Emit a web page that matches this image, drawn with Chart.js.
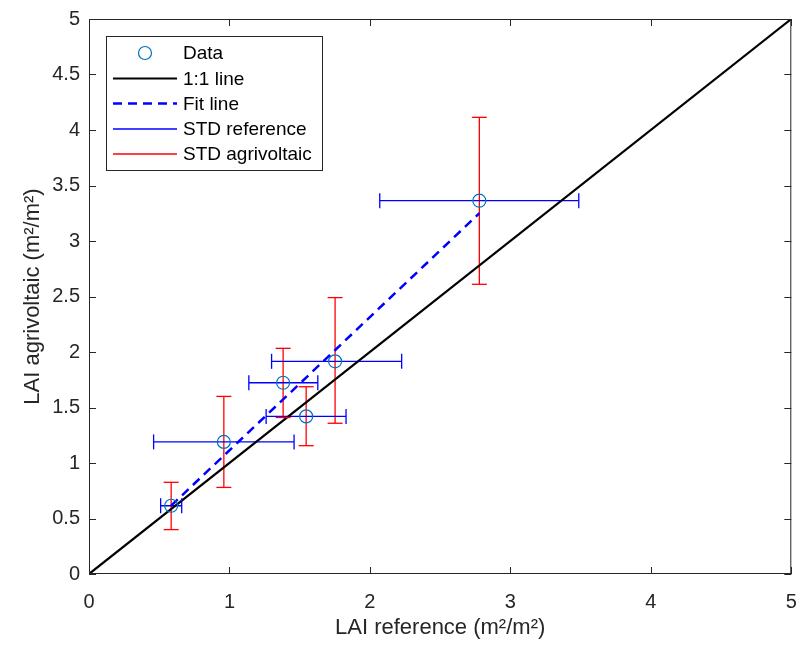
<!DOCTYPE html>
<html>
<head>
<meta charset="utf-8">
<script src="https://cdn.jsdelivr.net/npm/chart.js@4.4.0/dist/chart.umd.min.js"></script>
<style>
  html, body { margin: 0; padding: 0; background: #fff; }
  #wrap { width: 799px; height: 649px; }
</style>
</head>
<body>
<div id="wrap"><canvas id="laiChart" width="799" height="649"></canvas></div>
<script>
// values
var refLAI   = [0.585, 0.96, 1.382, 1.546, 1.752, 2.779];
var agriLAI  = [0.615, 1.19, 1.723, 1.42, 1.916, 3.363];
var refLow   = [0.51, 0.46, 1.138, 1.261, 1.30, 2.07];
var refHigh  = [0.66, 1.46, 1.629, 1.83, 2.226, 3.487];
var agriLow  = [0.40, 0.78, 1.41, 1.156, 1.358, 2.61];
var agriHigh = [0.826, 1.60, 2.033, 1.687, 2.49, 4.114];
var oneX = [0, 5];
var oneY = [0, 5];
var fitX = [0.585, 2.779];
var fitY = [0.616, 3.25];
var xTicks = [0, 1, 2, 3, 4, 5];
var yTicks = [0, 0.5, 1, 1.5, 2, 2.5, 3, 3.5, 4, 4.5, 5];

var axisColor = '#262626';
var font = 'Liberation Sans, Arial, sans-serif';

function pts(xs, ys) {
  return xs.map(function(x, i) { return { x: x, y: ys[i] }; });
}
// error bar segments, one per point, separated by gaps
function segs(x1, y1, x2, y2) {
  var out = [];
  for (var i = 0; i < x1.length; i++) {
    out.push({ x: x1[i], y: y1[i] }, { x: x2[i], y: y2[i] }, { x: null, y: null });
  }
  return out;
}

var errorCaps = {
  id: 'errorCaps',
  afterDatasetsDraw: function(chart) {
    var ctx = chart.ctx, xs = chart.scales.x, ys = chart.scales.y;
    var cap = 7.5;
    ctx.save();
    ctx.lineWidth = 1.3;
    ctx.strokeStyle = '#0000ff';
    for (var i = 0; i < refLAI.length; i++) {
      var py = ys.getPixelForValue(agriLAI[i]);
      [refLow[i], refHigh[i]].forEach(function(v) {
        var px = xs.getPixelForValue(v);
        ctx.beginPath(); ctx.moveTo(px, py - cap); ctx.lineTo(px, py + cap); ctx.stroke();
      });
    }
    ctx.strokeStyle = '#ff0000';
    for (var j = 0; j < refLAI.length; j++) {
      var qx = xs.getPixelForValue(refLAI[j]);
      [agriLow[j], agriHigh[j]].forEach(function(v) {
        var qy = ys.getPixelForValue(v);
        ctx.beginPath(); ctx.moveTo(qx - cap, qy); ctx.lineTo(qx + cap, qy); ctx.stroke();
      });
    }
    ctx.restore();
  },
  afterDraw: function(chart) {
    var ctx = chart.ctx, a = chart.chartArea, xs = chart.scales.x, ys = chart.scales.y;
    var tl = 7;
    ctx.save();
    // box and inward ticks
    ctx.strokeStyle = axisColor;
    ctx.lineWidth = 1;
    ctx.strokeRect(a.left + 0.5, a.top + 0.5, a.right - a.left - 1, a.bottom - a.top - 1);
    ctx.beginPath();
    xTicks.forEach(function(v) {
      var px = Math.round(xs.getPixelForValue(v)) + 0.5;
      ctx.moveTo(px, a.bottom); ctx.lineTo(px, a.bottom - tl);
      ctx.moveTo(px, a.top); ctx.lineTo(px, a.top + tl);
    });
    yTicks.forEach(function(v) {
      var py = Math.round(ys.getPixelForValue(v)) + 0.5;
      ctx.moveTo(a.left, py); ctx.lineTo(a.left + tl, py);
      ctx.moveTo(a.right, py); ctx.lineTo(a.right - tl, py);
    });
    ctx.stroke();

    // legend box
    var bx = 106, by = 36, bw = 216, bh = 134;
    ctx.fillStyle = '#fff';
    ctx.fillRect(bx, by, bw, bh);
    ctx.strokeRect(bx + 0.5, by + 0.5, bw, bh);
    var rowY = [53, 78.5, 103.5, 129, 154];
    ctx.font = '19px ' + font;
    ctx.textBaseline = 'middle';
    chart.data.datasets.forEach(function(ds, k) {
      var y = rowY[k];
      ctx.save();
      if (k === 0) {
        ctx.strokeStyle = ds.borderColor; ctx.lineWidth = ds.borderWidth;
        ctx.beginPath(); ctx.arc(145, y, 6.5, 0, Math.PI * 2); ctx.stroke();
      } else {
        ctx.strokeStyle = ds.borderColor; ctx.lineWidth = ds.borderWidth;
        ctx.setLineDash(ds.borderDash || []);
        ctx.beginPath(); ctx.moveTo(113, y); ctx.lineTo(177, y); ctx.stroke();
      }
      ctx.restore();
      ctx.fillStyle = '#000';
      ctx.fillText(ds.label, 183, y + 1);
    });
    ctx.restore();
  }
};

var ctx = document.getElementById('laiChart');
var laiChart = new Chart(ctx, {
  type: 'scatter',
  data: {
    datasets: [{
      label: 'Data',
      data: pts(refLAI, agriLAI),
      showLine: false,
      pointStyle: 'circle',
      pointRadius: 6.5,
      borderColor: '#0072BD',
      backgroundColor: 'rgba(0,0,0,0)',
      borderWidth: 1.2
    }, {
      label: '1:1 line',
      data: pts(oneX, oneY),
      showLine: true,
      pointRadius: 0,
      borderColor: '#000',
      borderWidth: 2.2
    }, {
      label: 'Fit line',
      data: pts(fitX, fitY),
      showLine: true,
      pointRadius: 0,
      borderColor: '#0000ff',
      borderWidth: 2.5,
      borderDash: [9, 6]
    }, {
      label: 'STD reference',
      data: segs(refLow, agriLAI, refHigh, agriLAI),
      showLine: true,
      spanGaps: false,
      pointRadius: 0,
      borderColor: '#0000ff',
      borderWidth: 1.3
    }, {
      label: 'STD agrivoltaic',
      data: segs(refLAI, agriLow, refLAI, agriHigh),
      showLine: true,
      spanGaps: false,
      pointRadius: 0,
      borderColor: '#ff0000',
      borderWidth: 1.3
    }]
  },
  options: {
    responsive: false,
    animation: false,
    devicePixelRatio: 1,
    layout: { padding: { top: 19, right: 7, bottom: 0, left: 0 } },
    plugins: { legend: { display: false }, tooltip: { enabled: false } },
    scales: {
      x: {
        type: 'linear', min: 0, max: 5,
        afterBuildTicks: function(axis) { axis.ticks = xTicks.map(function(v) { return { value: v }; }); },
        afterFit: function(axis) { axis.height = 75; axis.paddingLeft = 0; axis.paddingRight = 0; },
        grid: { display: false, drawTicks: false },
        border: { display: false },
        ticks: { color: axisColor, font: { family: font, size: 20 }, padding: 16, maxRotation: 0,
                 callback: function(v) { return String(v); } },
        title: { display: true, text: 'LAI reference (m\u00b2/m\u00b2)', color: axisColor,
                 font: { family: font, size: 22 }, padding: { top: 0, bottom: 8 } }
      },
      y: {
        type: 'linear', min: 0, max: 5,
        afterBuildTicks: function(axis) { axis.ticks = yTicks.map(function(v) { return { value: v }; }); },
        afterFit: function(axis) { axis.width = 89; axis.paddingTop = 0; axis.paddingBottom = 0; },
        grid: { display: false, drawTicks: false },
        border: { display: false },
        ticks: { color: axisColor, font: { family: font, size: 20 }, padding: 9,
                 callback: function(v) { return String(v); } },
        title: { display: true, text: 'LAI agrivoltaic (m\u00b2/m\u00b2)', color: axisColor,
                 font: { family: font, size: 22 }, padding: { top: 20, bottom: 0 } }
      }
    }
  },
  plugins: [errorCaps]
});
</script>
</body>
</html>
